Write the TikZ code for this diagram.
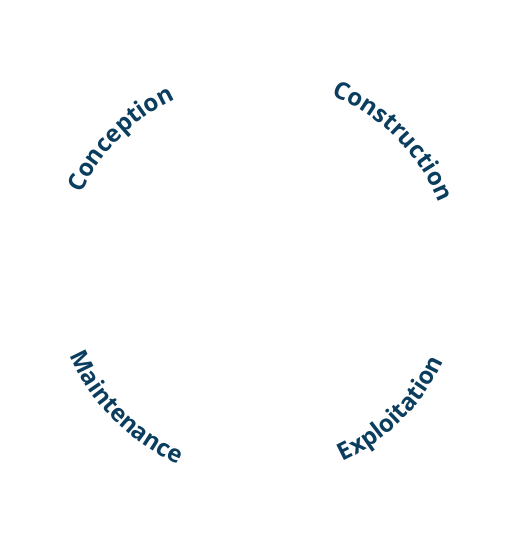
\documentclass[tikz,border=0pt]{standalone}
\usepackage{fontspec}
\setmainfont{Open Sans}
\usetikzlibrary{decorations.text}
\definecolor{txtblue}{HTML}{0B3D5E}
\newcommand{\arcfont}{\fontsize{24}{28}\selectfont\bfseries\color{txtblue}}
\tikzset{arclabel/.style={decorate, decoration={text along path, text align=center, text={|\arcfont|#1}}}}
\begin{document}
\begin{tikzpicture}[x=1pt,y=1pt]
\useasboundingbox (0,0) rectangle (520,550);
\coordinate (c) at (258,274);
\path[arclabel=Conception] (c) ++(170:195) arc[start angle=170, end angle=100, radius=195];
\path[arclabel=Construction] (c) ++(80:195) arc[start angle=80, end angle=10, radius=195];
\path[arclabel=Maintenance] (c) ++(190:204) arc[start angle=190, end angle=260, radius=204];
\path[arclabel=Exploitation] (c) ++(280:204) arc[start angle=280, end angle=350, radius=204];
\end{tikzpicture}
\end{document}
